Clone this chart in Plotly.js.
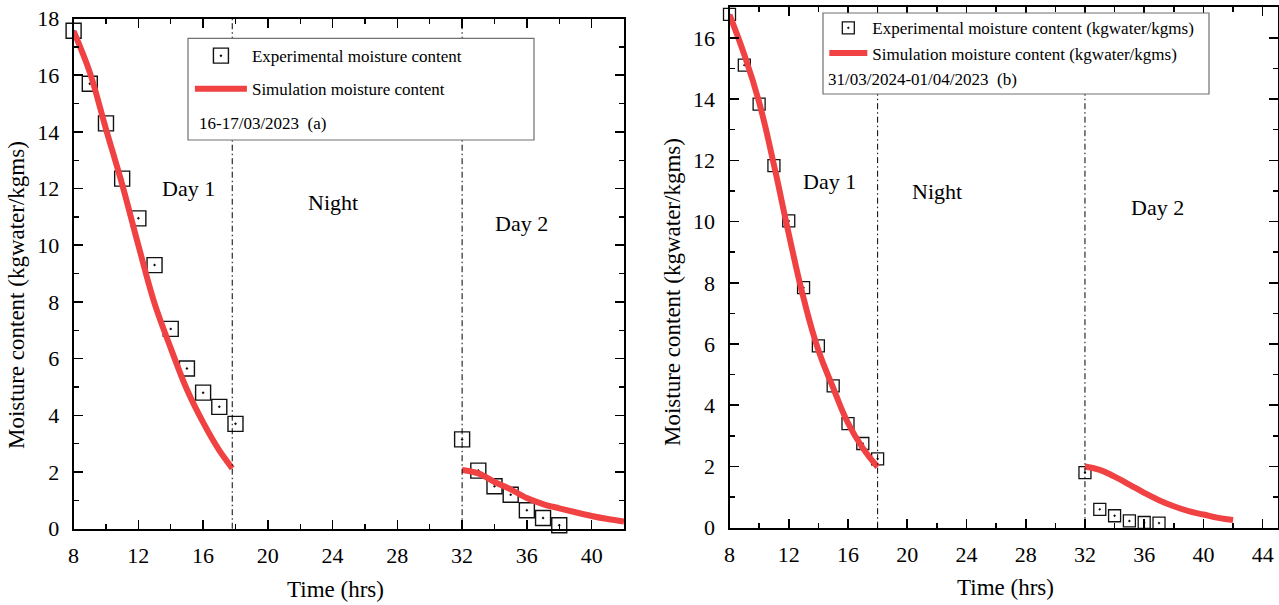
<!DOCTYPE html>
<html>
<head>
<meta charset="utf-8">
<script src="https://cdn.plot.ly/plotly-3.0.1.min.js"></script>
<style>
  html, body { margin: 0; padding: 0; background: #fff; }
  #chart { width: 1279px; height: 605px; }
</style>
</head>
<body>
<div id="chart"></div>
<script>
// Panel (a): 16-17/03/2023
const expHoursA  = [8, 9, 10, 11, 12, 13, 14, 15, 16, 17, 18, 32, 33, 34, 35, 36, 37, 38];
const expMoistA  = [17.57, 15.7, 14.3, 12.35, 10.95, 9.3, 7.05, 5.65, 4.8, 4.3, 3.7, 3.15, 2.05, 1.5, 1.2, 0.65, 0.38, 0.12];
const simHoursA  = [8, 9, 10, 11, 12, 13, 14, 15, 16, 17, 17.8, null, 32, 33, 34, 35, 36, 37, 38, 39, 40, 41, 42];
const simMoistA  = [17.55, 16.1, 14.1, 12.15, 10.0, 7.95, 6.37, 4.91, 3.75, 2.76, 2.13, null, 2.07, 1.95, 1.65, 1.39, 1.08, 0.87, 0.72, 0.58, 0.45, 0.34, 0.25];

// Panel (b): 31/03/2024-01/04/2023
const expHoursB  = [8, 9, 10, 11, 12, 13, 14, 15, 16, 17, 18, 32, 33, 34, 35, 36, 37];
const expMoistB  = [16.77, 15.11, 13.84, 11.83, 10.02, 7.84, 5.94, 4.63, 3.4, 2.75, 2.25, 1.8, 0.6, 0.39, 0.22, 0.17, 0.15];
const simHoursB  = [8, 9, 10, 11, 12, 13, 14, 15, 16, 17, 18, null, 32, 33, 34, 35, 36, 37, 38, 39, 40, 41, 42];
const simMoistB  = [16.75, 15.45, 13.9, 11.85, 9.6, 7.5, 5.8, 4.57, 3.42, 2.6, 1.98, null, 2.0, 1.89, 1.67, 1.41, 1.14, 0.9, 0.7, 0.54, 0.43, 0.32, 0.25];

// Day / night boundaries (hours)
const boundariesA = [17.8, 32];
const boundariesB = [18, 32];

// Period labels: [text, hour, moisture]
const periodLabelsA = [["Day 1", 15.08, 12.02], ["Night", 24.0, 11.52], ["Day 2", 35.64, 10.78]];
const periodLabelsB = [["Day 1", 14.78, 11.31], ["Night", 22.03, 10.99], ["Day 2", 36.9, 10.45]];

const legendNamesA = ["Experimental moisture content", "Simulation moisture content"];
const legendNamesB = ["Experimental moisture content (kgwater/kgms)", "Simulation moisture content (kgwater/kgms)"];
const dateLabelA = "16-17/03/2023\u00a0\u00a0(a)";
const dateLabelB = "31/03/2024-01/04/2023\u00a0\u00a0(b)";
const xTitle = "Time (hrs)";
const yTitle = "Moisture content (kgwater/kgms)";

const serif = "'Liberation Serif', 'Times New Roman', serif";
const red = "#F04242";

const traces = [
  {
    x: expHoursA, y: expMoistA, xaxis: "x", yaxis: "y", type: "scatter", mode: "markers",
    name: legendNamesA[0], legend: "legend", legendgroup: "a1", cliponaxis: false,
    marker: { symbol: "square-open-dot", size: 15, color: "#111", line: { width: 1.4, color: "#111" } }
  },
  {
    x: simHoursA, y: simMoistA, xaxis: "x", yaxis: "y", type: "scatter", mode: "lines",
    name: legendNamesA[1], legend: "legend", legendgroup: "a2", connectgaps: false,
    line: { color: red, width: 6, shape: "spline", smoothing: 1 }
  },
  {
    x: expHoursB, y: expMoistB, xaxis: "x2", yaxis: "y2", type: "scatter", mode: "markers",
    name: legendNamesB[0], legend: "legend2", legendgroup: "b1", cliponaxis: false,
    marker: { symbol: "square-open-dot", size: 12, color: "#111", line: { width: 1.3, color: "#111" } }
  },
  {
    x: simHoursB, y: simMoistB, xaxis: "x2", yaxis: "y2", type: "scatter", mode: "lines",
    name: legendNamesB[1], legend: "legend2", legendgroup: "b2", connectgaps: false,
    line: { color: red, width: 6, shape: "spline", smoothing: 1.3 }
  }
];

function xAxis(domain, range, anchor) {
  return {
    domain: domain, range: range, anchor: anchor,
    tick0: 8, dtick: 4, ticks: "inside", ticklen: 9, tickwidth: 1.6, tickcolor: "#000",
    minor: { dtick: 2, ticks: "inside", ticklen: 5, tickwidth: 1.4, tickcolor: "#000" },
    showline: true, linewidth: 2, linecolor: "#000", mirror: "allticks",
    showgrid: false, zeroline: false,
    ticklabelstandoff: 6,
    tickfont: { family: serif, size: 22, color: "#000" }
  };
}
function yAxis(domain, range, anchor) {
  return {
    domain: domain, range: range, anchor: anchor,
    tick0: 0, dtick: 2, ticks: "inside", ticklen: 9, tickwidth: 1.6, tickcolor: "#000",
    minor: { dtick: 1, ticks: "inside", ticklen: 5, tickwidth: 1.4, tickcolor: "#000" },
    showline: true, linewidth: 2, linecolor: "#000", mirror: "allticks",
    showgrid: false, zeroline: false,
    ticklabelstandoff: 8,
    tickfont: { family: serif, size: 22, color: "#000" }
  };
}

const shapes = [];
boundariesA.forEach(h => shapes.push({
  type: "line", xref: "x", yref: "y domain", x0: h, x1: h, y0: 0, y1: 1,
  line: { color: "#000", width: 1, dash: "6px,3px,1.5px,3px" }
}));
boundariesB.forEach(h => shapes.push({
  type: "line", xref: "x2", yref: "y2 domain", x0: h, x1: h, y0: 0, y1: 1,
  line: { color: "#000", width: 1, dash: "6px,3px,1.5px,3px" }
}));
// legend frames
shapes.push({ type: "rect", xref: "paper", yref: "paper", x0: 0.14699, x1: 0.41751, y0: 0.76860, y1: 0.93669,
  fillcolor: "#fff", line: { color: "#707070", width: 1.2 } });
shapes.push({ type: "rect", xref: "paper", yref: "paper", x0: 0.64347, x1: 0.94527, y0: 0.84463, y1: 0.97851,
  fillcolor: "#fff", line: { color: "#707070", width: 1.2 } });

const annotations = [];
periodLabelsA.forEach(p => annotations.push({
  text: p[0], x: p[1], y: p[2], xref: "x", yref: "y", showarrow: false,
  font: { family: serif, size: 22, color: "#000" }
}));
periodLabelsB.forEach(p => annotations.push({
  text: p[0], x: p[1], y: p[2], xref: "x2", yref: "y2", showarrow: false,
  font: { family: serif, size: 22, color: "#000" }
}));
annotations.push({ text: dateLabelA, xref: "paper", yref: "paper", x: 0.154, y: 0.7962,
  xanchor: "left", yanchor: "middle", showarrow: false, font: { family: serif, size: 17, color: "#000" } });
annotations.push({ text: dateLabelB, xref: "paper", yref: "paper", x: 0.6458, y: 0.8678,
  xanchor: "left", yanchor: "middle", showarrow: false, font: { family: serif, size: 17, color: "#000" } });

// axis titles
const titleFont = { family: serif, size: 23, color: "#000" };
annotations.push({ text: xTitle, xref: "paper", yref: "paper", x: 0.2627, y: 0.0248,
  xanchor: "center", yanchor: "middle", showarrow: false, font: titleFont });
annotations.push({ text: xTitle, xref: "paper", yref: "paper", x: 0.7858, y: 0.0281,
  xanchor: "center", yanchor: "middle", showarrow: false, font: titleFont });
annotations.push({ text: yTitle, xref: "paper", yref: "paper", x: 0.0133, y: 0.5124, textangle: -90,
  xanchor: "center", yanchor: "middle", showarrow: false, font: titleFont });
annotations.push({ text: yTitle, xref: "paper", yref: "paper", x: 0.5262, y: 0.5174, textangle: -90,
  xanchor: "center", yanchor: "middle", showarrow: false, font: titleFont });

const layout = {
  width: 1279, height: 605,
  margin: { l: 0, r: 0, t: 0, b: 0, pad: 0 },
  paper_bgcolor: "#fff", plot_bgcolor: "#fff",
  showlegend: true,
  font: { family: serif, color: "#000" },
  xaxis: xAxis([0.05755, 0.48788], [8, 42], "y"),
  yaxis: yAxis([0.1261, 0.9694], [0, 18], "x"),
  xaxis2: xAxis([0.57037, 0.99883], [8, 45], "y2"),
  yaxis2: yAxis([0.12777, 0.98793], [0, 17], "x2"),
  legend: {
    x: 0.1485, y: 0.937, xanchor: "left", yanchor: "top",
    bgcolor: "rgba(0,0,0,0)", borderwidth: 0, itemwidth: 52, tracegroupgap: 8,
    font: { family: serif, size: 17, color: "#000" }
  },
  legend2: {
    x: 0.6445, y: 0.983, xanchor: "left", yanchor: "top",
    bgcolor: "rgba(0,0,0,0)", borderwidth: 0, itemwidth: 38, tracegroupgap: 0,
    font: { family: serif, size: 17, color: "#000" }
  },
  shapes: shapes,
  annotations: annotations
};

Plotly.newPlot("chart", traces, layout, { displayModeBar: false, staticPlot: true });
</script>
</body>
</html>
